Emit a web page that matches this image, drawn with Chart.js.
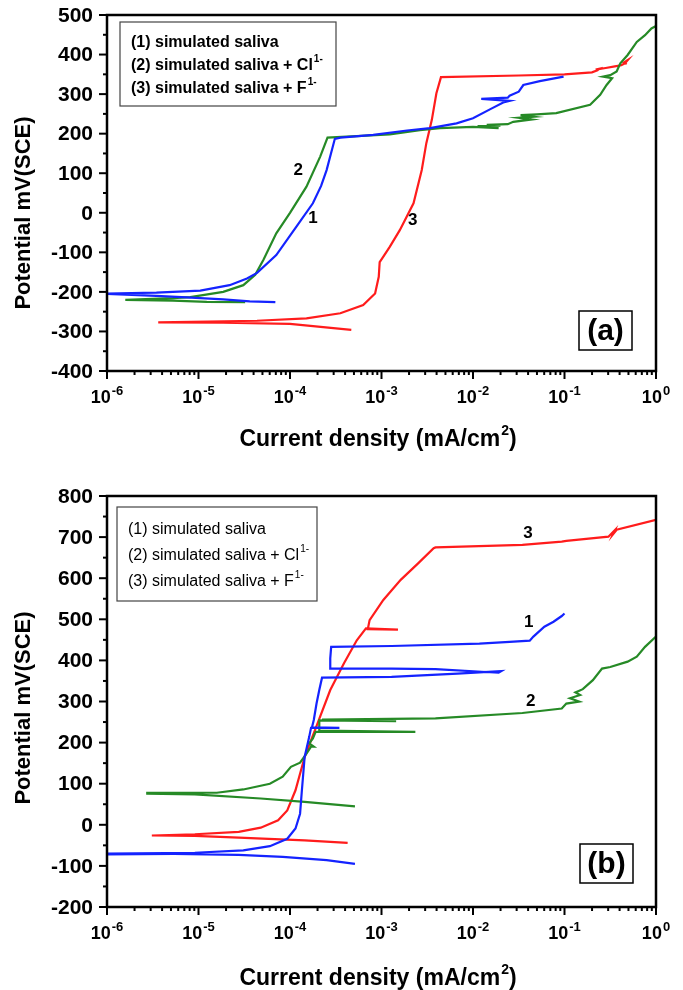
<!DOCTYPE html>
<html lang="en">
<head>
<meta charset="UTF-8">
<title>Polarization curves in simulated saliva</title>
<script src="https://cdn.jsdelivr.net/npm/chart.js"></script>
<style>
  body { margin: 0; background: #fff; }
  canvas { position: absolute; left: 0; }
  #panelA { top: 0; }
  #panelB { top: 470px; }
</style>
</head>
<body>
<canvas id="panelA" width="683" height="470"></canvas>
<canvas id="panelB" width="683" height="520"></canvas>
<script>
// axis ticks
const decades = [-6, -5, -4, -3, -2, -1, 0];
const aTicks = [-400, -300, -200, -100, 0, 100, 200, 300, 400, 500];
const bTicks = [-200, -100, 0, 100, 200, 300, 400, 500, 600, 700, 800];
const legendText = ['(1) simulated saliva', '(2) simulated saliva + Cl', '(3) simulated saliva + F'];
const legendSup = ['', '1-', '1-'];

// panel (a): log10 of current density (mA/cm2) and potential (mV vs SCE)
const a1LogI = [-4.16, -4.44, -4.73, -5.13, -5.46, -6.0, -5.99, -5.46, -4.98, -4.66, -4.47, -4.36, -4.15, -3.93, -3.75, -3.66, -3.60, -3.51, -3.45, -3.09, -2.72, -2.47, -2.18, -2.0, -1.81, -1.67, -1.60, -1.91, -1.62, -1.60, -1.50, -1.45, -1.27, -1.01];
const a1E = [-226, -224, -219, -214, -210, -205, -204, -202, -197, -183, -166, -152, -107, -35, 24, 68, 108, 187, 190, 197, 208, 214, 226, 239, 262, 279, 283, 288, 291, 296, 306, 323, 333, 344];

const a2LogI = [-4.49, -4.91, -5.28, -5.80, -5.28, -5.09, -4.73, -4.51, -4.38, -4.29, -4.15, -4.0, -3.82, -3.67, -3.59, -3.27, -2.91, -2.58, -2.36, -2.0, -1.72, -1.95, -1.70, -1.85, -1.62, -1.56, -1.36, -1.50, -1.34, -1.48, -1.30, -1.09, -0.72, -0.61, -0.54, -0.48, -0.58, -0.50, -0.43, -0.39, -0.31, -0.21, -0.12, -0.05, 0];
const a2E = [-226, -225, -222, -220, -216, -213, -200, -183, -157, -119, -52, 0, 66, 142, 190, 194, 198, 209, 214, 217, 214, 219, 220, 222, 224, 230, 236, 240, 243, 247, 249, 252, 273, 298, 323, 340, 344, 348, 357, 378, 399, 432, 449, 466, 472];

const a3LogI = [-3.33, -4.0, -4.73, -5.44, -4.36, -3.82, -3.45, -3.20, -3.07, -3.03, -3.02, -2.98, -2.91, -2.80, -2.65, -2.56, -2.51, -2.45, -2.40, -2.35, -1.5, -1.0, -0.7, -0.64, -0.62, -0.66, -0.55, -0.45, -0.38, -0.34, -0.31, -0.35, -0.32];
const a3E = [-296, -281, -278, -277, -273, -267, -254, -233, -204, -162, -125, -111, -86, -44, 24, 108, 176, 235, 302, 343, 347, 350, 355, 360, 364, 362, 366, 370, 373, 378, 386, 380, 376];

// panel (b)
const b1LogI = [-3.29, -3.60, -4.08, -4.56, -5.27, -6.0, -6.0, -5.04, -4.51, -4.22, -4.03, -3.94, -3.89, -3.87, -3.84, -3.79, -3.77, -3.46, -3.76, -3.74, -3.71, -3.68, -3.65, -2.89, -2.17, -1.69, -1.72, -2.41, -2.89, -3.56, -3.56, -3.55, -2.89, -1.93, -1.60, -1.38, -1.34, -1.22, -1.12, -1.03, -1.0];
const b1E = [-95, -86, -78, -73, -71, -72, -70, -68, -62, -52, -34, -9, 27, 84, 165, 214, 236, 236, 237, 255, 295, 328, 358, 360, 368, 374, 370, 379, 380, 380, 405, 433, 435, 441, 445, 448, 458, 482, 494, 508, 514];

const b2LogI = [-3.29, -3.84, -4.32, -5.04, -5.56, -5.56, -4.80, -4.51, -4.22, -4.08, -3.99, -3.89, -3.82, -3.77, -3.74, -3.79, -3.75, -3.72, -2.63, -3.68, -3.68, -2.84, -3.65, -2.41, -1.46, -1.03, -0.98, -0.84, -0.94, -0.83, -0.88, -0.80, -0.69, -0.59, -0.50, -0.31, -0.21, -0.12, 0];
const b2E = [45, 56, 64, 74, 76, 78, 78, 86, 100, 117, 141, 151, 173, 190, 190, 198, 210, 226, 226, 229, 254, 252, 256, 259, 272, 283, 295, 300, 308, 316, 322, 330, 352, 380, 384, 397, 409, 433, 458];

const b3LogI = [-3.37, -3.84, -4.56, -5.04, -5.51, -5.04, -4.56, -4.32, -4.13, -4.03, -3.94, -3.84, -3.70, -3.56, -3.41, -3.27, -3.17, -2.82, -3.15, -3.13, -2.98, -2.79, -2.60, -2.43, -2.41, -1.46, -1.03, -0.98, -0.52, -0.45, -0.47, -0.43, 0];
const b3E = [-44, -38, -31, -27, -26, -23, -17, -7, 11, 35, 84, 165, 246, 328, 393, 449, 478, 475, 476, 498, 547, 596, 636, 673, 675, 681, 689, 691, 701, 717, 707, 718, 742];

const BLUE = '#1423ff';
const GREEN = '#268a26';
const RED = '#ff1c1c';
const SANS = '"Liberation Sans", Arial, sans-serif';

function curve(logI, E, color) {
    return {
        data: logI.map((l, i) => ({ x: Math.pow(10, l), y: E[i] })),
        showLine: true,
        borderColor: color,
        borderWidth: 2.2,
        pointRadius: 0,
        tension: 0
    };
}

// frame, ticks, labels, legend box and panel tag drawn on top of the plot
const axisDecor = {
    id: 'axisDecor',
    afterDraw(chart, args, o) {
        const ctx = chart.ctx;
        const { left, right, top, bottom } = chart.chartArea;
        const xs = chart.scales.x, ys = chart.scales.y;
        const seg = (x1, y1, x2, y2) => { ctx.beginPath(); ctx.moveTo(x1, y1); ctx.lineTo(x2, y2); ctx.stroke(); };
        ctx.save();
        ctx.strokeStyle = '#000';
        ctx.fillStyle = '#000';

        // current density ticks and 10^n labels
        ctx.lineWidth = 2;
        ctx.textAlign = 'left';
        ctx.textBaseline = 'alphabetic';
        decades.forEach((d, i) => {
            const base = Math.pow(10, d);
            const px = xs.getPixelForValue(base);
            seg(px, bottom, px, bottom + 8);
            if (i < decades.length - 1) {
                for (let m = 2; m <= 9; m++) {
                    const mx = xs.getPixelForValue(m * base);
                    seg(mx, bottom, mx, bottom + 4);
                }
            }
            const exp = String(d);
            ctx.font = 'bold 18px ' + SANS;
            const wBase = ctx.measureText('10').width;
            ctx.font = 'bold 13px ' + SANS;
            const wExp = ctx.measureText(exp).width;
            const x0 = px - (wBase + wExp + 1) / 2;
            ctx.font = 'bold 18px ' + SANS;
            ctx.fillText('10', x0, bottom + 32);
            ctx.font = 'bold 13px ' + SANS;
            ctx.fillText(exp, x0 + wBase + 1, bottom + 24);
        });

        // potential ticks
        const yt = o.yTicks;
        for (let v = yt[0]; v <= yt[yt.length - 1]; v += 50) {
            const py = ys.getPixelForValue(v);
            seg(left - (v % 100 === 0 ? 8 : 4), py, left, py);
        }
        ctx.font = 'bold 21px ' + SANS;
        ctx.textAlign = 'right';
        ctx.textBaseline = 'middle';
        yt.forEach(v => ctx.fillText(String(v), left - 14, ys.getPixelForValue(v) + 1));

        // frame
        ctx.lineWidth = 2.5;
        ctx.strokeRect(left, top, right - left, bottom - top);

        // axis titles
        ctx.save();
        ctx.translate(24, o.yTitleY);
        ctx.rotate(-Math.PI / 2);
        ctx.textAlign = 'center';
        ctx.font = 'bold 22px ' + SANS;
        ctx.fillText('Potential mV(SCE)', 0, 0);
        ctx.restore();

        ctx.textAlign = 'left';
        ctx.textBaseline = 'alphabetic';
        const t1 = 'Current density (mA/cm', t2 = '2', t3 = ')';
        ctx.font = 'bold 23px ' + SANS;
        const w1 = ctx.measureText(t1).width, w3 = ctx.measureText(t3).width;
        ctx.font = 'bold 14px ' + SANS;
        const w2 = ctx.measureText(t2).width;
        let tx = o.xTitleX - (w1 + w2 + w3 + 1) / 2;
        ctx.font = 'bold 23px ' + SANS;
        ctx.fillText(t1, tx, o.xTitleY);
        ctx.font = 'bold 14px ' + SANS;
        ctx.fillText(t2, tx + w1 + 1, o.xTitleY - 11);
        ctx.font = 'bold 23px ' + SANS;
        ctx.fillText(t3, tx + w1 + w2 + 1, o.xTitleY);

        // legend
        const lg = o.legend;
        ctx.lineWidth = 1.2;
        ctx.strokeStyle = '#444';
        ctx.strokeRect(lg.x, lg.y, lg.w, lg.h);
        legendText.forEach((txt, i) => {
            const by = lg.y + lg.first + i * lg.step;
            ctx.font = lg.font;
            ctx.fillText(txt, lg.x + lg.pad, by);
            if (legendSup[i]) {
                const w = ctx.measureText(txt).width;
                ctx.font = lg.supFont;
                ctx.fillText(legendSup[i], lg.x + lg.pad + w + 1, by - 8);
            }
        });

        // panel tag
        const tg = o.tag;
        ctx.strokeStyle = '#000';
        ctx.lineWidth = 1.5;
        ctx.strokeRect(tg.x, tg.y, tg.w, tg.h);
        ctx.font = 'bold 30px ' + SANS;
        ctx.textAlign = 'center';
        ctx.textBaseline = 'middle';
        ctx.fillText(tg.text, tg.x + tg.w / 2, tg.y + tg.h / 2 + 1);

        // curve numbers, anchored in data coordinates
        ctx.font = 'bold 17px ' + SANS;
        o.marks.forEach(m => {
            ctx.fillText(m.text, xs.getPixelForValue(Math.pow(10, m.logI)), ys.getPixelForValue(m.E));
        });
        ctx.restore();
    }
};

function makeChart(id, p) {
    return new Chart(document.getElementById(id), {
        type: 'scatter',
        data: { datasets: p.datasets },
        options: {
            responsive: false,
            animation: false,
            devicePixelRatio: 1,
            layout: { padding: { top: p.top, right: 27, bottom: 0, left: 0 } },
            plugins: {
                legend: { display: false },
                tooltip: { enabled: false },
                axisDecor: p.decor
            },
            scales: {
                x: {
                    type: 'logarithmic', min: 1e-6, max: 1,
                    ticks: { display: false }, grid: { display: false }, border: { display: false },
                    afterFit: s => { s.height = p.xHeight; }
                },
                y: {
                    type: 'linear', min: p.yTicks[0], max: p.yTicks[p.yTicks.length - 1],
                    ticks: { display: false }, grid: { display: false }, border: { display: false },
                    afterFit: s => { s.width = 107; }
                }
            }
        },
        plugins: [axisDecor]
    });
}

makeChart('panelA', {
    top: 15,
    xHeight: 99,
    yTicks: aTicks,
    datasets: [curve(a1LogI, a1E, BLUE), curve(a2LogI, a2E, GREEN), curve(a3LogI, a3E, RED)],
    decor: {
        yTicks: aTicks,
        yTitleY: 213,
        xTitleX: 378,
        xTitleY: 446,
        legend: { x: 120, y: 22, w: 216, h: 84, pad: 11, first: 25, step: 23,
                  font: 'bold 16px ' + SANS, supFont: 'bold 10px ' + SANS },
        tag: { x: 579, y: 311, w: 53, h: 39, text: '(a)' },
        marks: [
            { text: '2', logI: -3.91, E: 108 },
            { text: '1', logI: -3.75, E: -13 },
            { text: '3', logI: -2.66, E: -18 }
        ]
    }
});

makeChart('panelB', {
    top: 26,
    xHeight: 83,
    yTicks: bTicks,
    datasets: [curve(b1LogI, b1E, BLUE), curve(b2LogI, b2E, GREEN), curve(b3LogI, b3E, RED)],
    decor: {
        yTicks: bTicks,
        yTitleY: 238,
        xTitleX: 378,
        xTitleY: 515,
        legend: { x: 117, y: 37, w: 200, h: 94, pad: 11, first: 27, step: 26,
                  font: '16px ' + SANS, supFont: '10px ' + SANS },
        tag: { x: 580, y: 374, w: 53, h: 39, text: '(b)' },
        marks: [
            { text: '3', logI: -1.40, E: 710 },
            { text: '1', logI: -1.39, E: 493 },
            { text: '2', logI: -1.37, E: 301 }
        ]
    }
});
</script>
</body>
</html>
